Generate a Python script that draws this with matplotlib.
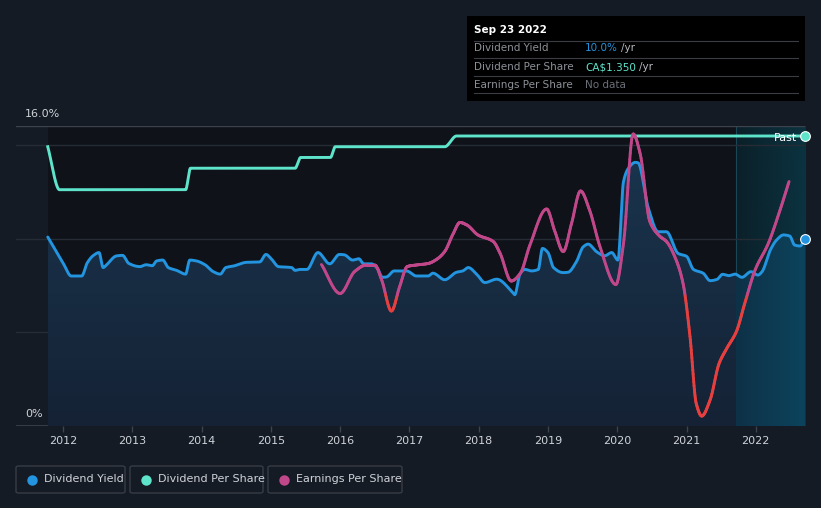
import numpy as np
import matplotlib
matplotlib.use("Agg")
import matplotlib.pyplot as plt
from matplotlib.patches import Rectangle, FancyBboxPatch, Polygon
from matplotlib.collections import LineCollection
from matplotlib.colors import LinearSegmentedColormap

# ---------------- data ----------------
yield_t = [2011.78, 2012.0, 2012.12, 2012.27, 2012.35, 2012.44, 2012.52, 2012.58, 2012.63, 2012.77,
           2012.86, 2012.95, 2013.11, 2013.2, 2013.29, 2013.35, 2013.44, 2013.52, 2013.64, 2013.77,
           2013.83, 2013.93, 2014.05, 2014.17, 2014.27, 2014.35, 2014.46, 2014.65, 2014.84, 2014.93,
           2015.01, 2015.11, 2015.3, 2015.35, 2015.42, 2015.52, 2015.68, 2015.85, 2015.99, 2016.06,
           2016.18, 2016.27, 2016.34, 2016.45, 2016.54, 2016.61, 2016.67, 2016.78, 2016.96, 2017.10,
           2017.27, 2017.34, 2017.51, 2017.68, 2017.77, 2017.85, 2017.97, 2018.09, 2018.26, 2018.5,
           2018.52, 2018.6, 2018.67, 2018.76, 2018.86, 2018.92, 2019.0, 2019.08, 2019.22, 2019.29,
           2019.41, 2019.51, 2019.58, 2019.70, 2019.82, 2019.92, 2020.01, 2020.09, 2020.16, 2020.26,
           2020.3, 2020.45, 2020.59, 2020.71, 2020.88, 2021.0, 2021.1, 2021.24, 2021.34, 2021.44,
           2021.52, 2021.61, 2021.7, 2021.8, 2021.93, 2022.03, 2022.09, 2022.21, 2022.3, 2022.4,
           2022.49, 2022.56, 2022.64, 2022.71]
yield_v = [10.08, 8.7, 8.0, 8.0, 8.7, 9.1, 9.25, 8.45, 8.6, 9.07,
           9.1, 8.67, 8.5, 8.6, 8.55, 8.8, 8.85, 8.45, 8.3, 8.1,
           8.85, 8.8, 8.6, 8.23, 8.1, 8.45, 8.53, 8.73, 8.75, 9.15,
           8.9, 8.5, 8.45, 8.3, 8.35, 8.35, 9.25, 8.65, 9.15, 9.13,
           8.85, 8.92, 8.65, 8.65, 8.4, 7.93, 7.95, 8.27, 8.27, 8.0,
           8.0, 8.15, 7.8, 8.2, 8.27, 8.45, 8.1, 7.65, 7.83, 7.08,
           7.0, 8.15, 8.35, 8.27, 8.35, 9.47, 9.25, 8.45, 8.18, 8.2,
           8.76, 9.56, 9.7, 9.3, 9.08, 9.25, 8.85, 13.03, 13.74, 14.06,
           14.04, 11.6, 10.36, 10.36, 9.2, 9.05, 8.35, 8.15, 7.75, 7.82,
           8.09, 8.02, 8.1, 7.93, 8.23, 8.05, 8.23, 9.39, 9.92, 10.19,
           10.13, 9.65, 9.6, 10.0]

dps_t = [2011.78, 2011.95, 2013.77, 2013.84, 2015.35, 2015.43, 2015.86, 2015.93,
         2017.51, 2017.68, 2022.71]
dps_v = [1.30, 1.10, 1.10, 1.20, 1.20, 1.25, 1.25, 1.30, 1.30, 1.35, 1.35]

eps_t = [2015.73, 2016.0, 2016.21, 2016.38, 2016.5, 2016.6, 2016.74, 2016.86, 2016.97, 2017.1,
         2017.27, 2017.39, 2017.51, 2017.63, 2017.73, 2017.83, 2017.99, 2018.21, 2018.31, 2018.47,
         2018.6, 2018.74, 2018.98, 2019.1, 2019.22, 2019.34, 2019.47, 2019.6, 2019.75, 2019.98,
         2020.09, 2020.23, 2020.33, 2020.47, 2020.61, 2020.71, 2020.85, 2020.95, 2021.05, 2021.14,
         2021.22, 2021.34, 2021.47, 2021.58, 2021.72, 2021.84, 2021.99, 2022.18, 2022.35, 2022.48]
eps_v = [0.61, 0.03, 0.47, 0.60, 0.60, 0.30, -0.32, 0.17, 0.57, 0.60,
         0.63, 0.71, 0.87, 1.22, 1.45, 1.40, 1.20, 1.07, 0.83, 0.28,
         0.43, 1.00, 1.72, 1.27, 0.87, 1.43, 2.08, 1.70, 0.97, 0.21,
         1.03, 3.22, 2.83, 1.47, 1.18, 1.07, 0.70, 0.23, -0.83, -2.17,
         -2.42, -2.10, -1.37, -1.07, -0.73, -0.17, 0.50, 1.03, 1.70, 2.27]

year_ticks = [2012, 2013, 2014, 2015, 2016, 2017, 2018, 2019, 2020, 2021, 2022]

# ---------------- style ----------------
FIG_BG = "#151b25"
PLOT_BG = "#0f1319"
BLUE = "#2394df"
TEAL = "#5ee4cb"
MAG = "#c0478a"
RED = "#e5403f"
TXT = "#cfd3d9"

W, H = 821, 508
fig = plt.figure(figsize=(W / 100, H / 100), dpi=100, facecolor=FIG_BG)

L, R, T, B = 16, 805, 126, 426
ax = fig.add_axes([L / W, 1 - B / H, (R - L) / W, (B - T) / H])
ax.set_facecolor(FIG_BG)
x0 = 2012 + (L - 63) / 69.3
x1 = 2022.71
ax.set_xlim(x0, x1)
ax.set_ylim(0, 16)
for s in ax.spines.values():
    s.set_visible(False)


def pchip(x, y, n=14):
    """Monotone cubic (Fritsch-Carlson) interpolation for smooth drawing."""
    x = np.asarray(x, float); y = np.asarray(y, float)
    h = np.diff(x); d = np.diff(y) / h
    m = np.zeros_like(y)
    m[0], m[-1] = d[0], d[-1]
    for k in range(1, len(y) - 1):
        if d[k - 1] * d[k] <= 0:
            m[k] = 0.0
        else:
            w1 = 2 * h[k] + h[k - 1]; w2 = h[k] + 2 * h[k - 1]
            m[k] = (w1 + w2) / (w1 / d[k - 1] + w2 / d[k])
    xs, ys = [], []
    for k in range(len(h)):
        s = np.linspace(0, 1, n, endpoint=False)
        h00 = 2 * s**3 - 3 * s**2 + 1; h10 = s**3 - 2 * s**2 + s
        h01 = -2 * s**3 + 3 * s**2; h11 = s**3 - s**2
        xs.append(x[k] + s * h[k])
        ys.append(h00 * y[k] + h10 * h[k] * m[k] + h01 * y[k + 1] + h11 * h[k] * m[k + 1])
    xs.append([x[-1]]); ys.append([y[-1]])
    return np.concatenate(xs), np.concatenate(ys)


# darker background where data exists
ax.add_patch(Rectangle((yield_t[0], 0), x1 - yield_t[0], 16, facecolor=PLOT_BG, edgecolor="none", zorder=0))
# highlighted last-year region (gradient)
hl0 = 2021.71
grad = np.linspace(0, 1, 256).reshape(1, -1)
cm_hl = LinearSegmentedColormap.from_list("hl", ["#0b2029", "#0b3340"])
ax.imshow(grad, extent=[hl0, x1, 0, 16], aspect="auto", cmap=cm_hl, zorder=0.5, interpolation="bicubic")
ax.axvline(hl0, color="#1b4656", lw=0.8, zorder=0.6)

# grid lines
for gy in [5, 10, 15]:
    ax.axhline(gy, color="#262c35", lw=1, zorder=1)
ax.axhline(16, color="#3d434c", lw=1, zorder=1)
ax.axhline(0, color="#3d434c", lw=1.2, zorder=1)

# yield area (gradient)
ys_t, ys_v = pchip(yield_t, yield_v)
poly_pts = np.vstack([np.column_stack([ys_t, ys_v]), [[ys_t[-1], 0], [ys_t[0], 0]]])
poly = Polygon(poly_pts, closed=True, facecolor="none", edgecolor="none")
ax.add_patch(poly)
gv = np.linspace(0, 1, 256).reshape(-1, 1)
cm_fill = LinearSegmentedColormap.from_list("f", ["#152235", "#19344d"])
im = ax.imshow(gv, extent=[ys_t[0], ys_t[-1], 0, 14.2], origin="lower", aspect="auto",
               cmap=cm_fill, zorder=2, interpolation="bicubic")
im.set_clip_path(poly)
cm_fill2 = LinearSegmentedColormap.from_list("f2", ["#0e3147", "#0c445d"])
im2 = ax.imshow(grad, extent=[hl0, x1, 0, 16], aspect="auto", cmap=cm_fill2, zorder=2.1,
                interpolation="bicubic")
im2.set_clip_path(poly)

ax.plot(ys_t, ys_v, color=BLUE, lw=2.1, zorder=5, solid_capstyle="round", solid_joinstyle="round")
ax.plot([yield_t[-1]], [yield_v[-1]], "o", ms=7, color=BLUE, markeredgecolor="white", mew=0.8,
        zorder=8, clip_on=False)

# DPS on twin axis
ax2 = ax.twinx()
ax2.set_ylim(0, 1.35 * 300 / 290)
ax2.set_xlim(x0, x1)
ax2.axis("off")
ds_t, ds_v = pchip(dps_t, dps_v, n=30)
ax2.plot(ds_t, ds_v, color=TEAL, lw=2.1, zorder=5, solid_joinstyle="round")
ax2.plot([dps_t[-1]], [dps_v[-1]], "o", ms=7, color=TEAL, markeredgecolor="white", mew=0.8,
         zorder=8, clip_on=False)

# EPS on twin axis, red below zero
ax3 = ax.twinx()
ax3.set_ylim(-2.62, 3.38)
ax3.set_xlim(x0, x1)
ax3.axis("off")
es, ev = pchip(eps_t, eps_v, n=20)
pts = np.column_stack([es, ev]).reshape(-1, 1, 2)
segs = np.concatenate([pts[:-1], pts[1:]], axis=1)
cols = [RED if (a[1] + b[1]) / 2 < 0 else MAG for a, b in zip(pts[:-1, 0], pts[1:, 0])]
lc = LineCollection(segs, colors=cols, linewidths=2.1, zorder=6, capstyle="round", joinstyle="round")
ax3.add_collection(lc)

# x ticks
ax.set_xticks(year_ticks)
ax.set_xticklabels([str(y) for y in year_ticks], color=TXT, fontsize=8)
ax.tick_params(axis="x", colors="#3d434c", length=4, width=1, pad=3, labelcolor=TXT)
ax.set_yticks([])

# y labels
fig.text(25 / W, 1 - 114 / H, "16.0%", color=TXT, fontsize=8, va="center", ha="left")
fig.text(25 / W, 1 - 414 / H, "0%", color=TXT, fontsize=8, va="center", ha="left")
fig.text(774 / W, 1 - 138 / H, "Past", color="white", fontsize=8, va="center", ha="left", zorder=10)

# tooltip box
fig.patches.append(Rectangle((467 / W, 1 - 101 / H), (805 - 467) / W, (101 - 16) / H,
                             transform=fig.transFigure, facecolor="#000000", edgecolor="none", zorder=5))
fig.text(474 / W, 1 - 30 / H, "Sep 23 2022", color="white", fontsize=7.5, fontweight="bold",
         va="center", ha="left", zorder=6)
rows = [("Dividend Yield", "10.0%", BLUE, 47), ("Dividend Per Share", "CA$1.350", TEAL, 66),
        ("Earnings Per Share", "No data", "#6b7078", 84)]
for yline in [41, 58, 76, 93]:
    fig.lines.append(plt.Line2D([474 / W, 798 / W], [1 - yline / H, 1 - yline / H], transform=fig.transFigure,
                                color="#3a3e44", lw=0.8, zorder=6))
for lab, val, c, yy in rows:
    fig.text(474 / W, 1 - (yy + 1) / H, lab, color="#8d9197", fontsize=7.5, va="center", ha="left", zorder=6)
    t = fig.text(585 / W, 1 - (yy + 1) / H, val, color=c, fontsize=7.5, va="center", ha="left", zorder=6)
    if val != "No data":
        fig.canvas.draw()
        bb = t.get_window_extent()
        fig.text(bb.x1 / W + 3 / W, 1 - (yy + 1) / H, "/yr", color="#b5b9bf", fontsize=7.5,
                 va="center", ha="left", zorder=6)

# legend boxes
legend = [("Dividend Yield", BLUE, 16, 125), ("Dividend Per Share", TEAL, 130, 263),
          ("Earnings Per Share", MAG, 268, 402)]
for lab, c, xa, xb in legend:
    fig.patches.append(FancyBboxPatch((xa / W, 1 - 493 / H), (xb - xa) / W, 27 / H,
                                      boxstyle="round,pad=0,rounding_size=0.003", transform=fig.transFigure,
                                      facecolor=FIG_BG, edgecolor="#3a3f48", lw=0.9))
    fig.lines.append(plt.Line2D([(xa + 16) / W], [1 - 479.5 / H], transform=fig.transFigure,
                                marker="o", ms=7.5, color=c, markeredgecolor="none", linestyle="none"))
    fig.text((xa + 28) / W, 1 - 479.5 / H, lab, color=TXT, fontsize=8, va="center", ha="left")

fig.savefig("out.png", dpi=100, facecolor=FIG_BG)
